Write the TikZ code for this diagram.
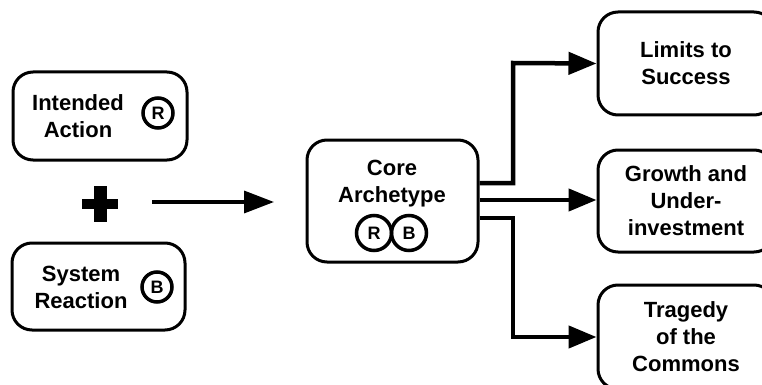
\documentclass[tikz,border=0pt]{standalone}
\usepackage{fontspec}
\setmainfont{Liberation Sans}
\usetikzlibrary{arrows.meta}
\begin{document}
\begin{tikzpicture}[x=1pt,y=-1pt,
  box/.style={draw,line width=3pt,rounded corners=20pt,inner sep=0pt},
  lbl/.style={font=\fontsize{22}{27}\selectfont\bfseries,align=center,inner sep=0pt},
  loop/.style={draw,circle,line width=3.5pt,inner sep=0pt,font=\fontsize{18}{18}\selectfont\bfseries},
  conn/.style={line width=4.5pt,-{Triangle[length=28pt,width=22pt]}},
]
\useasboundingbox (0,0) rectangle (762,385);
% left boxes
\node[box,minimum width=174pt,minimum height=88pt] (ia) at (100,116) {};
\node[lbl] (iat) at (78,116) {Intended\\Action};
\node[loop,minimum size=30pt] (iar) at (158,113) {R};
\node[box,minimum width=173pt,minimum height=87pt] (sr) at (98.5,286.5) {};
\node[lbl] (srt) at (81,287) {System\\Reaction};
\node[loop,minimum size=30pt] (srb) at (157,287) {B};
% plus
\node[inner sep=0pt,minimum size=35pt] (plus) at (100,204) {};
\draw[line width=13pt] (plus.north) -- (plus.south);
\draw[line width=10pt] (plus.west) -- (plus.east);
\coordinate (ps) at (152,202);
\coordinate (pe) at (274,202);
\draw[line width=3.5pt,-{Triangle[length=30pt,width=22pt]}] (ps) -- (pe);
% core
\node[box,minimum width=171pt,minimum height=122pt] (core) at (392.5,201) {};
\node[lbl] (coret) at (392,184) {Core\\Archetype};
\node[loop,minimum size=35pt] (cr) at (374,233) {R};
\node[loop,minimum size=35pt] (cb) at (409,233) {B};
% right boxes
\node[box,lbl,minimum width=176pt,minimum height=103pt] (lim) at (686,63.5) {Limits to\\Success};
\node[box,lbl,minimum width=176pt,minimum height=102pt] (gro) at (686,201) {Growth and\\Under-\\investment};
\node[box,lbl,minimum width=176pt,minimum height=104pt] (tra) at (686,337) {Tragedy\\of the\\Commons};
% connectors
\draw[conn] (core.east |- 0,183) -| (513,63) -- (lim.west);
\draw[conn] (core.east |- 0,200) -- (gro.west |- 0,200);
\draw[conn] (core.east |- 0,218) -| (513,337) -- (tra.west);
\end{tikzpicture}
\end{document}
